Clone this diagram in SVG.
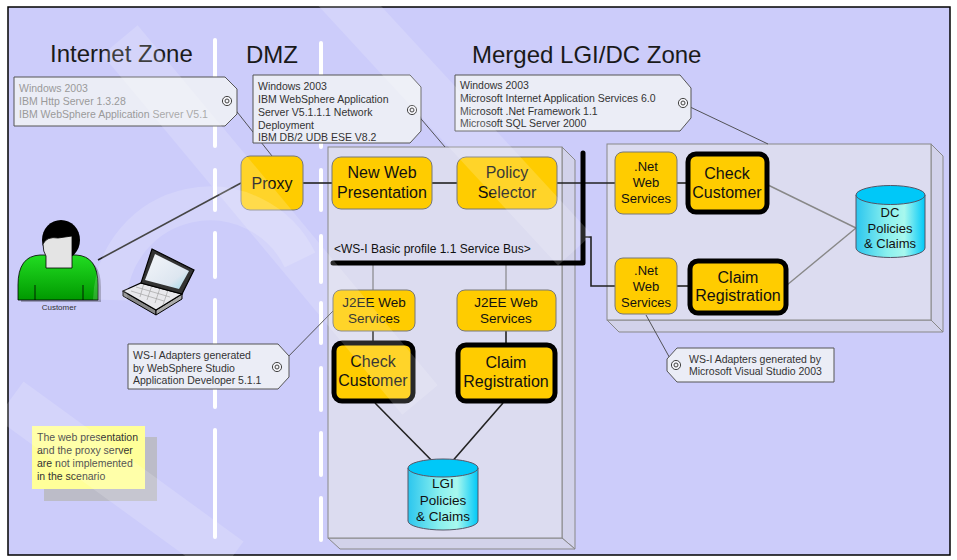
<svg xmlns="http://www.w3.org/2000/svg" width="957" height="560" viewBox="0 0 957 560">
  <defs>
    <style>
      text { font-family: "Liberation Sans", Arial, sans-serif; }
      .zone { font-size: 24px; fill: #1a1a1a; }
      .node { fill: #ffcc00; stroke: #777; stroke-width: 1; }
      .key { fill: #ffcc00; stroke: #000; stroke-width: 5; }
      .lbl { font-size: 16px; fill: #111; text-anchor: middle; }
      .lbl-s { font-size: 13.5px; fill: #111; text-anchor: middle; }
      .lbl-n { font-size: 13px; fill: #111; text-anchor: middle; }
      .tag { fill: #ebedf6; stroke: #555; stroke-width: 1; }
      .tagtxt { font-size: 10.5px; fill: #333; }
      .tagtxt-g { font-size: 10.5px; fill: #9a9a9a; }
      .leader { stroke: #444; stroke-width: 0.9; fill: none; }
      .face { fill: #dcdcf0; stroke: #888; stroke-width: 1; }
      .side { fill: #d2d2ea; stroke: #888; stroke-width: 1; }
      .dash { stroke: #fff; stroke-width: 4; stroke-linecap: round; fill: none; }
      .wire { stroke: #222; stroke-width: 1.6; fill: none; }
      .wire-g { stroke: #888; stroke-width: 1.4; fill: none; }
      .thin { stroke: #777; stroke-width: 1; fill: none; }
      .db-top { fill: #00c8f8; stroke: #556; stroke-width: 1; }
      .db-body { fill: url(#dbGrad); stroke: #556; stroke-width: 1; }
      .wm { stroke: #fff; stroke-opacity: 0.16; fill: none; stroke-linecap: butt; }
    </style>
    <linearGradient id="dbGrad" x1="0" y1="0" x2="1" y2="0">
      <stop offset="0" stop-color="#2cc6ee"/>
      <stop offset="0.45" stop-color="#8af0ee"/>
      <stop offset="0.7" stop-color="#a8f8ee"/>
      <stop offset="1" stop-color="#00c8f8"/>
    </linearGradient>
    <linearGradient id="bodyGrad" x1="0" y1="0" x2="0" y2="1">
      <stop offset="0" stop-color="#22dd22"/>
      <stop offset="1" stop-color="#009900"/>
    </linearGradient>
    <linearGradient id="screenGrad" x1="0" y1="0" x2="1" y2="1">
      <stop offset="0" stop-color="#f4f6fa"/>
      <stop offset="0.7" stop-color="#dde6f0"/>
      <stop offset="1" stop-color="#9fd8e8"/>
    </linearGradient>
    <!-- target symbol on note tags -->
    <g id="target">
      <circle r="4.6" fill="#f4f4f8" stroke="#444" stroke-width="1"/>
      <circle r="2" fill="none" stroke="#444" stroke-width="1"/>
    </g>
  </defs>

  <!-- background frame -->
  <rect x="0" y="0" width="957" height="560" fill="#fff"/>
  <rect x="8" y="7" width="942" height="548" fill="#ccccfa" stroke="#000" stroke-width="1.5"/>

  <!-- zone separators -->
  <g id="separators">
    <path class="dash" d="M215,40V146 M215,170V210 M215,233V277 M215,300V407 M215,430V537"/>
    <path class="dash" d="M321,43V147 M321,170V210 M321,236V282 M321,303V343 M321,368V410 M321,433V475 M321,498V540"/>
  </g>

  <!-- zone headings -->
  <g id="headings">
    <text class="zone" x="50" y="62">Internet Zone</text>
    <text class="zone" x="246" y="63">DMZ</text>
    <text class="zone" x="472" y="63">Merged LGI/DC Zone</text>
  </g>

  <!-- LGI server box -->
  <g id="lgi-box">
    <polygon class="side" points="562,147 575,160 575,549 562,538"/>
    <polygon class="side" points="328,538 562,538 575,549 340,549"/>
    <rect class="face" x="328" y="147" width="234" height="391"/>
  </g>

  <!-- DC server box -->
  <g id="dc-box">
    <polygon class="side" points="931,144 943,156 943,332 931,320"/>
    <polygon class="side" points="607,320 931,320 943,332 619,332"/>
    <rect class="face" x="607" y="144" width="324" height="176"/>
  </g>

  <!-- connectors -->
  <g id="connectors">
    <line class="wire" x1="98" y1="260" x2="241" y2="183"/>
    <line class="wire" x1="303" y1="183" x2="332" y2="183" stroke-width="2"/>
    <line class="wire" x1="432" y1="183" x2="457" y2="183" stroke-width="2"/>
    <line class="wire" x1="557" y1="183" x2="615" y2="183" stroke="#555" stroke-width="1.4"/>
    <line class="thin" x1="373" y1="263" x2="373" y2="290"/>
    <line class="thin" x1="506" y1="263" x2="506" y2="290"/>
    <path class="wire" d="M583,237H591V286H615" stroke-width="1.2"/>
    <line class="wire" x1="373" y1="331" x2="373" y2="342"/>
    <line class="wire" x1="506" y1="331" x2="506" y2="343"/>
    <line class="wire" x1="375" y1="403" x2="443" y2="472"/>
    <line class="wire" x1="503" y1="403" x2="443" y2="472"/>
    <line class="wire" x1="677" y1="183" x2="686" y2="183" stroke-width="2.5"/>
    <line class="wire" x1="677" y1="286" x2="688" y2="286" stroke-width="2.5"/>
    <line class="wire-g" x1="768" y1="185" x2="856" y2="228"/>
    <line class="wire-g" x1="787" y1="285" x2="856" y2="228"/>
    <!-- service bus -->
    <path d="M333,263H583V153" fill="none" stroke="#000" stroke-width="5" stroke-linecap="round" stroke-linejoin="round"/>
    <!-- note leaders -->
    <line class="leader" x1="230" y1="103" x2="272" y2="156"/>
    <line class="leader" x1="416" y1="113" x2="445" y2="147"/>
    <line class="leader" x1="688" y1="106" x2="768" y2="144"/>
    <line class="leader" x1="281" y1="364" x2="333" y2="311"/>
    <line class="leader" x1="672" y1="362" x2="646" y2="315"/>
  </g>

  <text x="334" y="253" font-size="12" fill="#111">&lt;WS-I Basic profile 1.1 Service Bus&gt;</text>

  <!-- customer -->
  <g id="customer">
    <path d="M21,302V287Q21,259 42,258H78Q101,259 101,287V302Z" fill="#8a8aa8" opacity="0.8"/>
    <path d="M18,300V285Q18,256 40,255H76Q98,256 98,285V300Z" fill="url(#bodyGrad)" stroke="#000" stroke-width="0.8"/>
    <line x1="35" y1="285" x2="35" y2="300" stroke="#000" stroke-width="0.8"/>
    <line x1="83" y1="285" x2="83" y2="300" stroke="#000" stroke-width="0.8"/>
    <ellipse cx="61" cy="240" rx="19" ry="20" fill="#000"/>
    <path d="M43,244Q47,236 58,238L72,236V268H46V256Q43,252 43,244Z" fill="#e4e4e4" stroke="#000" stroke-width="0.8"/>
    <text x="59" y="310" font-size="8" fill="#333" text-anchor="middle">Customer</text>
  </g>

  <!-- laptop -->
  <g id="laptop">
    <polygon points="123,291 156,310 156,315 123,296" fill="#888" stroke="#000" stroke-width="1"/>
    <polygon points="156,310 182,294 182,299 156,315" fill="#aaa" stroke="#000" stroke-width="1"/>
    <polygon points="141,283 182,294 156,310 123,291" fill="#e8e8ec" stroke="#000" stroke-width="1.2"/>
    <path d="M136,287L170,297 M131,291L164,301 M144,283L140,297 M152,285L147,300 M160,288L155,303 M168,290L163,305" stroke="#999" stroke-width="0.6" fill="none"/>
    <polygon points="152,249 194,270 182,294 141,283" fill="#333" stroke="#000" stroke-width="1.2"/>
    <polygon points="155,254 189,271 179,289 145,280" fill="url(#screenGrad)"/>
  </g>

  <!-- proxy -->
  <g id="proxy">
    <rect class="node" x="241" y="156" width="62" height="54" rx="9"/>
    <text class="lbl" x="272" y="189">Proxy</text>
  </g>

  <g id="new-web-presentation">
    <rect class="node" x="332" y="157" width="100" height="52" rx="9"/>
    <text class="lbl" x="382" y="178">New Web</text>
    <text class="lbl" x="382" y="198">Presentation</text>
  </g>

  <g id="policy-selector">
    <rect class="node" x="457" y="157" width="100" height="52" rx="9"/>
    <text class="lbl" x="507" y="178">Policy</text>
    <text class="lbl" x="507" y="198">Selector</text>
  </g>

  <g id="j2ee-ws-1">
    <rect class="node" x="333" y="290" width="82" height="41" rx="8"/>
    <text class="lbl-s" x="374" y="307">J2EE Web</text>
    <text class="lbl-s" x="374" y="323">Services</text>
  </g>

  <g id="j2ee-ws-2">
    <rect class="node" x="457" y="290" width="99" height="41" rx="8"/>
    <text class="lbl-s" x="506" y="307">J2EE Web</text>
    <text class="lbl-s" x="506" y="323">Services</text>
  </g>

  <g id="lgi-check-customer">
    <rect class="key" x="334" y="343" width="79" height="58" rx="8"/>
    <text class="lbl" x="373" y="367">Check</text>
    <text class="lbl" x="373" y="386">Customer</text>
  </g>

  <g id="lgi-claim-registration">
    <rect class="key" x="458" y="345" width="97" height="56" rx="8"/>
    <text class="lbl" x="506" y="368">Claim</text>
    <text class="lbl" x="506" y="387">Registration</text>
  </g>

  <g id="lgi-db">
    <path class="db-body" d="M408,468V521A35,9 0 0 0 478,521V468Z"/>
    <ellipse class="db-top" cx="443" cy="468" rx="35" ry="9"/>
    <text class="lbl-s" x="443" y="488">LGI</text>
    <text class="lbl-s" x="443" y="505">Policies</text>
    <text class="lbl-s" x="443" y="521">&amp; Claims</text>
  </g>

  <g id="net-ws-1">
    <rect class="node" x="615" y="152" width="62" height="62" rx="8"/>
    <text class="lbl-n" x="646" y="171">.Net</text>
    <text class="lbl-n" x="646" y="187">Web</text>
    <text class="lbl-n" x="646" y="203">Services</text>
  </g>

  <g id="net-ws-2">
    <rect class="node" x="615" y="258" width="62" height="56" rx="8"/>
    <text class="lbl-n" x="646" y="275">.Net</text>
    <text class="lbl-n" x="646" y="291">Web</text>
    <text class="lbl-n" x="646" y="307">Services</text>
  </g>

  <g id="dc-check-customer">
    <rect class="key" x="688" y="154" width="79" height="58" rx="8"/>
    <text class="lbl" x="727" y="179">Check</text>
    <text class="lbl" x="727" y="198">Customer</text>
  </g>

  <g id="dc-claim-registration">
    <rect class="key" x="690" y="261" width="96" height="52" rx="8"/>
    <text class="lbl" x="738" y="283">Claim</text>
    <text class="lbl" x="738" y="301">Registration</text>
  </g>

  <g id="dc-db">
    <path class="db-body" d="M856,195V248A34.5,9.5 0 0 0 925,248V195Z"/>
    <ellipse class="db-top" cx="890.5" cy="195" rx="34.5" ry="9.5"/>
    <text class="lbl-n" x="890" y="217">DC</text>
    <text class="lbl-n" x="890" y="233">Policies</text>
    <text class="lbl-n" x="890" y="248">&amp; Claims</text>
  </g>

  <!-- software notes -->
  <g id="note-proxy">
    <polygon class="tag" points="14,77 225,77 237,89 237,114 225,126 14,126"/>
    <use href="#target" x="227" y="101"/>
    <text class="tagtxt-g" x="19" y="92">Windows 2003</text>
    <text class="tagtxt-g" x="19" y="105">IBM Http Server 1.3.28</text>
    <text class="tagtxt-g" x="19" y="118">IBM WebSphere Application Server V5.1</text>
  </g>

  <g id="note-lgi">
    <polygon class="tag" points="253,75 410,75 421,87 421,131 410,143 253,143"/>
    <use href="#target" x="412" y="110"/>
    <text class="tagtxt" x="258" y="90">Windows 2003</text>
    <text class="tagtxt" x="258" y="103">IBM WebSphere Application</text>
    <text class="tagtxt" x="258" y="116">Server V5.1.1.1 Network</text>
    <text class="tagtxt" x="258" y="129">Deployment</text>
    <text class="tagtxt" x="258" y="141">IBM DB/2 UDB ESE V8.2</text>
  </g>

  <g id="note-dc">
    <polygon class="tag" points="455,75 680,75 691,88 691,118 680,131 455,131"/>
    <use href="#target" x="683" y="103"/>
    <text class="tagtxt" x="460" y="89">Windows 2003</text>
    <text class="tagtxt" x="460" y="102">Microsoft Internet Application Services 6.0</text>
    <text class="tagtxt" x="460" y="115">Microsoft .Net Framework 1.1</text>
    <text class="tagtxt" x="460" y="127">Microsoft SQL Server 2000</text>
  </g>

  <g id="note-wsad">
    <polygon class="tag" points="128,344 278,344 289,356 289,377 278,389 128,389"/>
    <use href="#target" x="277" y="367"/>
    <text class="tagtxt" x="133" y="359">WS-I Adapters generated</text>
    <text class="tagtxt" x="133" y="372">by WebSphere Studio</text>
    <text class="tagtxt" x="133" y="384">Application Developer 5.1.1</text>
  </g>

  <g id="note-vs">
    <polygon class="tag" points="677,348 834,348 834,382 677,382 667,371 667,359"/>
    <use href="#target" x="676" y="365"/>
    <text class="tagtxt" x="689" y="363">WS-I Adapters generated by</text>
    <text class="tagtxt" x="689" y="375">Microsoft Visual Studio 2003</text>
  </g>

  <g id="note-scope">
    <rect x="44" y="437" width="113" height="64" fill="#bcbcc8"/>
    <rect x="32" y="426" width="113" height="63" fill="#ffff99"/>
    <text class="tagtxt" x="37" y="441" fill="#222">The web presentation</text>
    <text class="tagtxt" x="37" y="454" fill="#222">and the proxy server</text>
    <text class="tagtxt" x="37" y="467" fill="#222">are not implemented</text>
    <text class="tagtxt" x="37" y="480" fill="#222">in the scenario</text>
  </g>

  <!-- faint stamp overlay across the sheet -->
  <g id="stamp">
    <path class="wm" stroke-width="46" d="M120,40L420,400"/>
    <path class="wm" stroke-width="46" d="M335,-10L575,250"/>
    <path class="wm" stroke-width="46" d="M10,400L230,560"/>
    <path class="wm" stroke-width="34" d="M110,300A100,100 0 0 1 300,260"/>
  </g>
</svg>
